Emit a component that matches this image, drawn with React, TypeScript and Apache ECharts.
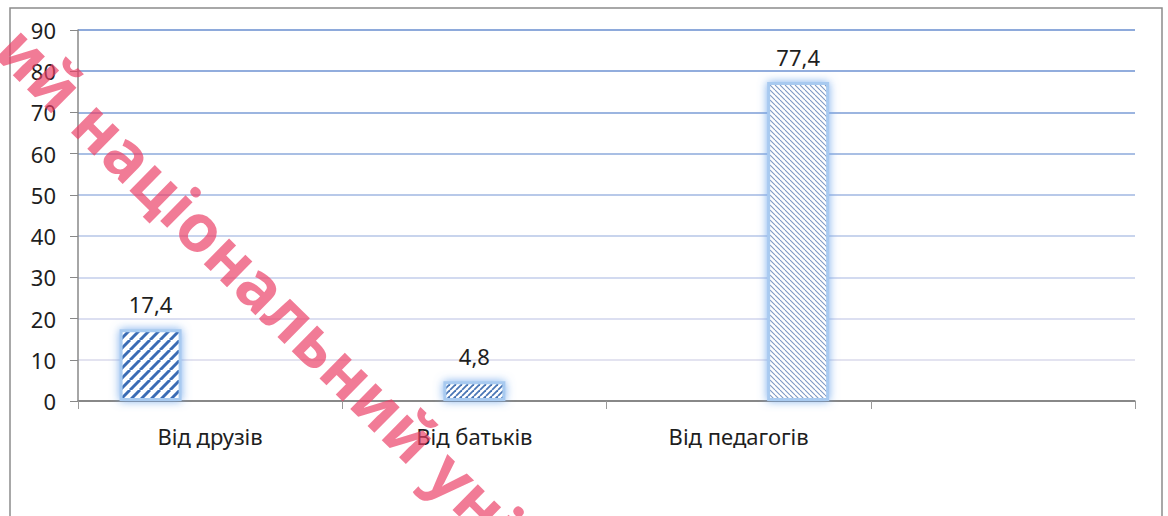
import React, { useEffect, useRef } from "react";
import * as echarts from "echarts";

const categories = ["Від друзів", "Від батьків", "Від педагогів", ""];
const seriesFriends = [17.4, null, null, null];
const seriesParents = [null, 4.8, null, null];
const seriesTeachers = [null, null, 77.4, null];
const yTicks = { min: 0, max: 90, interval: 10 };
const watermarkText = "ий національний університет";

const gridColors = [
  "#888888",
  "#e3e3f0",
  "#dcdff1",
  "#d2daf0",
  "#c8d4ed",
  "#b8c9e9",
  "#a9bfe4",
  "#9cb5e0",
  "#92addd",
  "#8eaadb",
];

function fmt(v: number) {
  return String(v).replace(".", ",");
}

function hatch(period: number, lineWidth: number, color: string, forward: boolean) {
  const c = document.createElement("canvas");
  c.width = period;
  c.height = period;
  const ctx = c.getContext("2d")!;
  ctx.fillStyle = "#ffffff";
  ctx.fillRect(0, 0, period, period);
  ctx.strokeStyle = color;
  ctx.lineWidth = lineWidth;
  for (let k = -1; k <= 1; k++) {
    ctx.beginPath();
    if (forward) {
      ctx.moveTo(k * period, period);
      ctx.lineTo(k * period + period, 0);
    } else {
      ctx.moveTo(k * period, 0);
      ctx.lineTo(k * period + period, period);
    }
    ctx.stroke();
  }
  return { image: c, repeat: "repeat" };
}

export default function App() {
  const ref = useRef<HTMLDivElement>(null);
  useEffect(() => {
    if (!ref.current) return;
    const chart = echarts.init(ref.current, undefined, { renderer: "svg" });
    const font = "'Noto Sans', 'DejaVu Sans', sans-serif";
    const barCommon = (fill: any) => ({
      type: "bar",
      barWidth: 62,
      barGap: "-4%",
      itemStyle: {
        color: fill,
        borderColor: "#a8caf0",
        borderWidth: 3,
        shadowBlur: 10,
        shadowColor: "rgba(110,165,235,0.9)",
      },
      label: {
        show: true,
        position: "top",
        distance: 14,
        fontFamily: font,
        fontSize: 22,
        color: "#1e1e1e",
        formatter: (p: any) => fmt(p.value),
      },
    });
    chart.setOption({
      animation: false,
      grid: { left: 78, right: 33, top: 30, bottom: 115 },
      xAxis: {
        type: "category",
        data: categories,
        axisLine: { lineStyle: { color: "#888888", width: 1.5 } },
        axisTick: { show: true, length: 8, lineStyle: { color: "#999999" } },
        axisLabel: { fontFamily: font, fontSize: 22, color: "#1e1e1e", margin: 24 },
      },
      yAxis: {
        type: "value",
        min: yTicks.min,
        max: yTicks.max,
        interval: yTicks.interval,
        axisLine: { show: true, lineStyle: { color: "#888888", width: 1.5 } },
        axisTick: { show: true, length: 8, lineStyle: { color: "#888888" } },
        axisLabel: { fontFamily: font, fontSize: 22, color: "#1e1e1e", margin: 22 },
        splitLine: { show: true, lineStyle: { color: gridColors, width: 2 } },
      },
      series: [
        { ...barCommon(hatch(10, 3, "#3a6cb4", true)), data: seriesFriends },
        { ...barCommon(hatch(6, 1.8, "#4a76b5", true)), data: seriesParents },
        { ...barCommon(hatch(5, 1.1, "#7d98c4", false)), data: seriesTeachers },
      ],
      graphic: [
        {
          type: "rect",
          z: 100,
          silent: true,
          shape: { x: 10, y: 8, width: 1152, height: 530 },
          style: { fill: "none", stroke: "#8c8c8c", lineWidth: 1.5 },
        },
        {
          type: "text",
          z: 200,
          silent: true,
          x: 10,
          y: 36,
          rotation: -0.78,
          style: {
            text: watermarkText,
            fontFamily: "'Noto Sans', 'DejaVu Sans', sans-serif",
            fontWeight: "bold",
            fontSize: 66,
            fill: "rgba(234, 60, 100, 0.68)",
            align: "left",
            verticalAlign: "middle",
          },
        },
      ],
    });
    return () => chart.dispose();
  }, []);
  return (
    <div
      ref={ref}
      style={{ position: "fixed", left: 0, top: 0, width: 1168, height: 516, background: "#ffffff" }}
    />
  );
}
